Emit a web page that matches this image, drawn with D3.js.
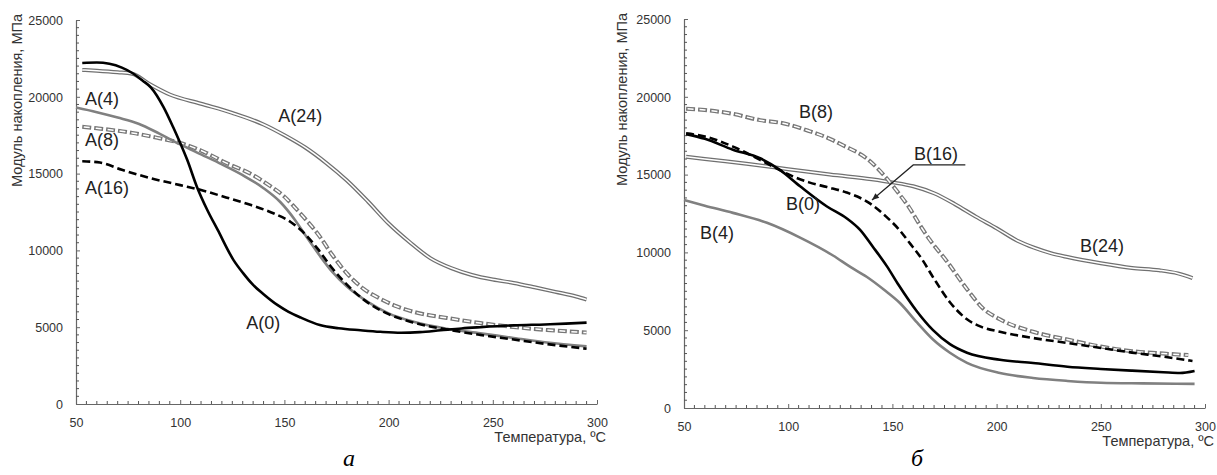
<!DOCTYPE html>
<html><head><meta charset="utf-8">
<script src="https://cdn.jsdelivr.net/npm/d3@7"></script>
<style>body{margin:0;background:#fff}svg{display:block}</style>
</head><body>
<svg id="c" width="1217" height="475"></svg>
<script>
// ---- data: [temperature °C, storage modulus MPa] ----
const A0  = [[53,22200],[60,22230],[66,22150],[72,21900],[77,21550],[82,21050],[86,20600],[92,19330],[96.6,18030],[100,16990],[103.4,15880],[108,14150],[113,12630],[118,11330],[125.6,9370],[130,8550],[135,7750],[140,7150],[146.6,6450],[152,6000],[158,5620],[167,5140],[176,4930],[186.5,4800],[196,4700],[206,4640],[215,4680],[225,4800],[235,4920],[244,5000],[260,5120],[275,5180],[285,5230],[295,5300]];
const A4  = [[50,19300],[60,19000],[70,18650],[80,18250],[90,17600],[100,16900],[110,16250],[120,15600],[130,14900],[140,14050],[148,13150],[155,12000],[161,10800],[167,9650],[173,8600],[180,7650],[190,6650],[200,5900],[212,5350],[228,4900],[244,4600],[260,4300],[276,4000],[295,3750]];
const A8  = [[53,18050],[60,17950],[77,17650],[90,17300],[100,17000],[110,16500],[122,15700],[135,14900],[142,14300],[150,13500],[155,12800],[161,11900],[167,10900],[173,9700],[180,8500],[188,7500],[196,6850],[204,6350],[212,6000],[228,5600],[244,5270],[260,5010],[276,4820],[295,4650]];
const A16 = [[53,15800],[61.5,15720],[72,15250],[85.6,14710],[100,14250],[110,13930],[122,13450],[134,12950],[145,12400],[153,11850],[160,11050],[166,10100],[172,9000],[178,8050],[184,7250],[190,6600],[200,5850],[212,5300],[228,4850],[244,4500],[260,4200],[276,3900],[295,3600]];
const A24 = [[53,21750],[60,21700],[70,21600],[77,21500],[85,20850],[95,20150],[110,19550],[125,18950],[140,18200],[150,17500],[160,16700],[170,15700],[180,14550],[190,13200],[200,11750],[210,10550],[220,9500],[230,8850],[240,8400],[250,8100],[260,7880],[270,7600],[280,7300],[290,7000],[295,6800]];

const B0  = [[51,17600],[60,17300],[73.5,16600],[86.5,16050],[96,15300],[105.7,14250],[118.6,12950],[128,12200],[134.5,11450],[140.7,10350],[147.4,9100],[153,7900],[161.8,6200],[169.5,5000],[177.6,4100],[185.8,3550],[201.6,3100],[217.5,2890],[234,2650],[250,2510],[265,2400],[280,2300],[288,2250],[295,2380]];
const B4  = [[50,13370],[60,13000],[73.5,12540],[89.8,11900],[105.7,10950],[121.5,9800],[130,9050],[137.8,8420],[146,7600],[153.6,6750],[161.8,5500],[169.5,4400],[177.6,3550],[185.8,2900],[201.6,2250],[217.5,1930],[234,1740],[250,1620],[270,1580],[295,1550]];
const B8  = [[51,19230],[60,19150],[73.5,18900],[86.5,18500],[97.5,18300],[110,17800],[120,17300],[126,16900],[138,16000],[147,14800],[153,13800],[158,12900],[163,11800],[168,10800],[176,9450],[186,7600],[193.5,6400],[201.6,5700],[217.5,4900],[234,4400],[250,3950],[265,3650],[280,3500],[292,3400]];
const B16 = [[51,17650],[60,17450],[73.5,16800],[86.5,15950],[102,14900],[110,14500],[118.6,14200],[128,13850],[138,13250],[147,12300],[153,11500],[158,10650],[164,9600],[170,8300],[177.6,6800],[185.8,5700],[193,5200],[201.6,4900],[217.5,4500],[234,4180],[250,3860],[265,3560],[280,3300],[294,3020]];
const B24 = [[51,16150],[60,16000],[80,15700],[100,15350],[120,15000],[140,14700],[150,14500],[160,14250],[170,13800],[180,13100],[190,12300],[200,11550],[210,10750],[218,10300],[226,9950],[234,9700],[250,9300],[265,9000],[278,8850],[287,8650],[294,8350]];

const xTicks = [50,100,150,200,250,300];
const yTicks = [0,5000,10000,15000,20000,25000];
const yTitle = "Модуль накопления, МПа";
const xTitle = "Температура, ºС";

// label anchors in data units
const labelsA = [["A(24)",147,18360],["A(4)",54.3,19460],["A(8)",54.3,16800],["A(16)",54.3,13670],["A(0)",131.7,4880]];
const labelsB = [["B(8)",105.2,18650],["B(16)",160.4,15950],["B(0)",98.9,12730],["B(4)",57.7,10870],["B(24)",240,10030]];
const leaderB16 = [[140.2,13370],[160,15620],[185,15620]];

const svg = d3.select("#c");
const FONT = "Liberation Sans, Arial, sans-serif";

const styles = {
  black:  [{stroke:"#000", w:2.6}],
  grey:   [{stroke:"#808080", w:2.6}],
  bdash:  [{stroke:"#000", w:2.6, dash:"8,4"}],
  double: [{stroke:"#707070", w:4}, {stroke:"#fff", w:1.5}],
  ddash:  [{stroke:"#777", w:4, dash:"9,3"}, {stroke:"#fff", w:1.5, dash:"6,6", off:-1.5}]
};

function panel(cfg){
  const x = d3.scaleLinear().domain([50,300]).range([cfg.x0, cfg.x1]);
  const y = d3.scaleLinear().domain([0,25000]).range([cfg.y0, cfg.y1]);
  const g = svg.append("g");

  // axes
  const ax = g.append("g").attr("transform",`translate(0,${cfg.y0})`)
    .call(d3.axisBottom(x).tickValues(xTicks).tickFormat(d3.format("d")).tickSizeInner(-4).tickSizeOuter(0).tickPadding(12));
  const ay = g.append("g").attr("transform",`translate(${cfg.x0},0)`)
    .call(d3.axisLeft(y).tickValues(yTicks).tickFormat(d3.format("d")).tickSizeInner(-4).tickSizeOuter(0).tickPadding(13));
  [ax,ay].forEach(a=>{
    a.select(".domain").attr("stroke","#666").attr("stroke-width",1.2);
    a.selectAll(".tick line").attr("stroke","#666");
    a.selectAll("text").attr("fill","#333").attr("font-family",FONT).attr("font-size",12.5);
  });
  ax.selectAll("text").attr("dy","0.9em");
  ay.selectAll("text").attr("dy","0.35em");

  // minor ticks
  const minorX = d3.range(55,300,5).filter(v=>v%50!==0);
  const minorY = d3.range(500,25000,500).filter(v=>v%5000!==0);
  g.append("g").selectAll("line").data(minorX).join("line")
    .attr("x1",d=>x(d)).attr("x2",d=>x(d)).attr("y1",cfg.y0).attr("y2",cfg.y0-3)
    .attr("stroke","#555").attr("stroke-width",1);
  g.append("g").selectAll("line").data(minorY).join("line")
    .attr("y1",d=>y(d)).attr("y2",d=>y(d)).attr("x1",cfg.x0).attr("x2",cfg.x0+3)
    .attr("stroke","#555").attr("stroke-width",1);

  // titles
  g.append("text").attr("x",cfg.x1+9).attr("y",cfg.y0+38).attr("text-anchor","end")
    .attr("font-family",FONT).attr("font-size",14.5).attr("fill","#333").text(xTitle);
  g.append("text").attr("transform",`translate(${cfg.x0-cfg.tOff},${y(25000)-6}) rotate(-90)`)
    .attr("text-anchor","end").attr("font-family",FONT).attr("font-size",14.5).attr("fill","#333").text(yTitle);

  // curves
  const line = d3.line().x(d=>x(d[0])).y(d=>y(d[1])).curve(d3.curveMonotoneX);
  cfg.series.forEach(([data,st])=>{
    styles[st].forEach(s=>{
      g.append("path").attr("d",line(data)).attr("fill","none")
        .attr("stroke",s.stroke).attr("stroke-width",s.w)
        .attr("stroke-dasharray",s.dash||null).attr("stroke-dashoffset",s.off||0)
        .attr("stroke-linejoin","round");
    });
  });

  // labels
  g.append("g").selectAll("text").data(cfg.labels).join("text")
    .attr("x",d=>x(d[1])).attr("y",d=>y(d[2])).text(d=>d[0])
    .attr("font-family",FONT).attr("font-size",18).attr("fill","#222");

  // caption
  g.append("text").attr("x",cfg.capX).attr("y",466).attr("font-family","Liberation Serif, Times New Roman, serif")
    .attr("font-style","italic").attr("font-size",24).attr("fill","#000").text(cfg.cap);
  return {x,y,g};
}

panel({x0:76,x1:597,y0:404,y1:20,tOff:54,cap:"а",capX:343,
  series:[[A24,"double"],[A8,"ddash"],[A4,"grey"],[A16,"bdash"],[A0,"black"]],labels:labelsA});

const pB = panel({x0:684,x1:1205,y0:408,y1:19,tOff:57,cap:"б",capX:911,
  series:[[B24,"double"],[B8,"ddash"],[B4,"grey"],[B16,"bdash"],[B0,"black"]],labels:labelsB});

// leader line for B(16)
const lp = leaderB16.map(d=>[pB.x(d[0]),pB.y(d[1])]);
pB.g.append("path").attr("d",d3.line()(lp)).attr("fill","none").attr("stroke","#222").attr("stroke-width",1.2);
const [tx,ty] = lp[0], [ux,uy] = lp[1];
const ang = Math.atan2(ty-uy, tx-ux);
const ah = 7, aw = 3;
const p1 = [tx - ah*Math.cos(ang) + aw*Math.sin(ang), ty - ah*Math.sin(ang) - aw*Math.cos(ang)];
const p2 = [tx - ah*Math.cos(ang) - aw*Math.sin(ang), ty - ah*Math.sin(ang) + aw*Math.cos(ang)];
pB.g.append("path").attr("d",`M${tx},${ty}L${p1}L${p2}Z`).attr("fill","#222");
</script>
</body></html>
